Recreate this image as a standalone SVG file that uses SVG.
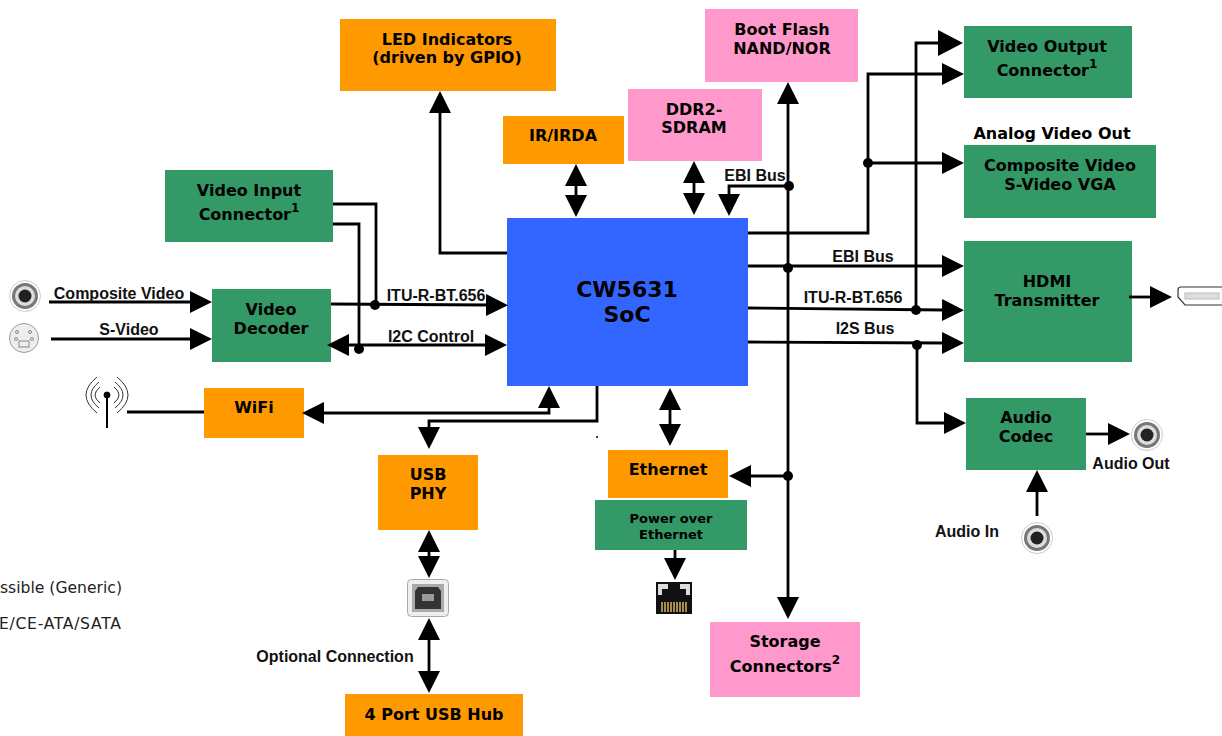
<svg xmlns="http://www.w3.org/2000/svg" width="1222" height="736" viewBox="0 0 1222 736">
<style>
.o{fill:#ff9900}.p{fill:#ff99cc}.g{fill:#339966}.b{fill:#3366ff}
.t{font:bold 16px "DejaVu Sans",Verdana,sans-serif;fill:#000;text-anchor:middle}
.s{font-size:12px}
.l{font:bold 16px "Liberation Sans",Arial,sans-serif;fill:#111;text-anchor:middle}
.f{font:15.600px "DejaVu Sans",Verdana,sans-serif;fill:#222}
.c path{fill:none;stroke:#000;stroke-width:2.800}
.a{marker-end:url(#h)}
.d{marker-start:url(#h);marker-end:url(#h)}
.big{marker-end:url(#H)}
.dot{fill:#000;stroke:none}
</style>
<defs>
<marker id="h" markerUnits="userSpaceOnUse" markerWidth="24" markerHeight="24" refX="2" refY="11" orient="auto-start-reverse"><path d="M0,0L22,11L0,22z" fill="#000"/></marker>
<marker id="H" markerUnits="userSpaceOnUse" markerWidth="27" markerHeight="27" refX="2" refY="13" orient="auto"><path d="M0,0L25,13L0,26z" fill="#000"/></marker>
<g id="jack"><circle r="15.500" fill="#fff" stroke="#ccc"/><circle r="13" fill="#777"/><circle r="10" fill="#ddd"/><circle r="6.500" fill="#222"/></g>
</defs>
<g id="led"><rect class="o" x="340" y="19" width="216" height="72"/><text class="t" x="447" y="45">LED Indicators</text><text class="t" x="447" y="63">(driven by GPIO)</text></g>
<g id="boot"><rect class="p" x="705" y="9" width="153" height="73"/><text class="t" x="782" y="35">Boot Flash</text><text class="t" x="782" y="54">NAND/NOR</text></g>
<g id="ddr2"><rect class="p" x="628" y="89" width="134" height="72"/><text class="t" x="694" y="115">DDR2-</text><text class="t" x="694" y="133">SDRAM</text></g>
<g id="ir"><rect class="o" x="503" y="116" width="121" height="48"/><text class="t" x="563" y="141">IR/IRDA</text></g>
<g id="video-input"><rect class="g" x="165" y="170" width="168" height="72"/><text class="t" x="249" y="196">Video Input</text><text class="t" x="249" y="220">Connector<tspan class="s" dy="-8">1</tspan></text></g>
<g id="video-decoder"><rect class="g" x="212" y="289" width="119" height="73"/><text class="t" x="271" y="315">Video</text><text class="t" x="271" y="334">Decoder</text></g>
<g id="soc"><rect class="b" x="507" y="218" width="241" height="168"/><text class="t" style="font-size:22px" x="627" y="297">CW5631</text><text class="t" style="font-size:22px" x="627" y="322">SoC</text></g>
<g id="wifi"><rect class="o" x="204" y="388" width="100" height="50"/><text class="t" x="254" y="413">WiFi</text></g>
<g id="usb-phy"><rect class="o" x="378" y="455" width="100" height="75"/><text class="t" x="428" y="480">USB</text><text class="t" x="428" y="499">PHY</text></g>
<g id="ethernet"><rect class="o" x="608" y="450" width="120" height="48"/><text class="t" x="668" y="475">Ethernet</text></g>
<g id="poe"><rect class="g" x="595" y="500" width="152" height="50"/><text class="t" style="font-size:13px" x="671" y="523">Power over</text><text class="t" style="font-size:13px" x="671" y="539">Ethernet</text></g>
<g id="storage"><rect class="p" x="710" y="622" width="150" height="75"/><text class="t" x="785" y="647">Storage</text><text class="t" x="785" y="672">Connectors<tspan class="s" dy="-8">2</tspan></text></g>
<g id="usb-hub"><rect class="o" x="345" y="694" width="178" height="42"/><text class="t" x="434" y="720">4 Port USB Hub</text></g>
<g id="video-output"><rect class="g" x="964" y="26" width="168" height="72"/><text class="t" x="1047" y="52">Video Output</text><text class="t" x="1047" y="76">Connector<tspan class="s" dy="-8">1</tspan></text></g>
<g id="composite"><rect class="g" x="964" y="145" width="192" height="73"/><text class="t" x="1060" y="171">Composite Video</text><text class="t" x="1060" y="190">S-Video VGA</text></g>
<g id="hdmi"><rect class="g" x="964" y="241" width="168" height="121"/><text class="t" x="1047" y="287">HDMI</text><text class="t" x="1047" y="306">Transmitter</text></g>
<g id="audio-codec"><rect class="g" x="966" y="398" width="120" height="72"/><text class="t" x="1026" y="423">Audio</text><text class="t" x="1026" y="442">Codec</text></g>
<g id="connectors" class="c">
<path class="a" d="M49,302H192"/>
<path class="a" d="M51,339H192"/>
<path class="a" d="M331,304L488,305"/>
<path d="M333,204H376V305"/>
<path d="M333,224H359V349"/>
<path class="d" d="M347,345H487"/>
<path class="a" d="M507,253H440V111"/>
<path class="d" d="M549,406V413H322"/>
<path d="M127,412H204"/>
<path class="a" d="M597,386V421H429V429"/>
<path class="d" d="M429,550V558"/>
<path class="d" d="M429,638V673"/>
<path class="d" d="M670,408V426"/>
<path class="d" d="M576,184V197"/>
<path class="d" d="M694,181V195"/>
<path class="d" d="M788,102V599"/>
<path class="a" d="M789,186H729V196"/>
<path class="a" d="M748,266H944"/>
<path class="a" d="M748,308L944,310"/>
<path class="big" d="M916,310V43H940"/>
<path class="a" d="M748,233H868V74H944"/>
<path class="a" d="M868,163H944"/>
<path class="a" d="M748,342L944,343"/>
<path class="a" d="M917,345V423H946"/>
<path class="a" d="M788,476H749"/>
<path class="a" d="M1129,297H1152"/>
<path class="a" d="M1086,434H1110"/>
<path class="a" d="M1037,516V490"/>
<path class="a" d="M675,550V560"/>
<circle class="dot" cx="375" cy="305" r="5"/><circle class="dot" cx="359" cy="349" r="5"/>
<circle class="dot" cx="789" cy="186" r="5"/><circle class="dot" cx="788" cy="268" r="5"/>
<circle class="dot" cx="916" cy="310" r="5"/><circle class="dot" cx="868" cy="163" r="5"/>
<circle class="dot" cx="917" cy="345" r="5"/><circle class="dot" cx="788" cy="476" r="5"/>
<circle class="dot" cx="597" cy="437" r="1"/>
</g>
<g id="labels">
<text class="l" x="119" y="299">Composite Video</text>
<text class="l" x="129" y="335">S-Video</text>
<text class="l" x="436" y="301">ITU-R-BT.656</text>
<text class="l" x="431" y="342">I2C Control</text>
<text class="l" x="755" y="181">EBI Bus</text>
<text class="l" x="863" y="262">EBI Bus</text>
<text class="l" x="853" y="303">ITU-R-BT.656</text>
<text class="l" x="865" y="334">I2S Bus</text>
<text class="t" x="1052" y="139">Analog Video Out</text>
<text class="l" x="1131" y="469">Audio Out</text>
<text class="l" x="967" y="537">Audio In</text>
<text class="l" x="335" y="662">Optional Connection</text>
<text class="f" x="0" y="593">ssible (Generic)</text>
<text class="f" style="letter-spacing:.7px" x="-1" y="629">E/CE-ATA/SATA</text>
</g>
<g id="composite-jack"><use href="#jack" x="25" y="296"/></g>
<g id="audio-out-jack"><use href="#jack" x="1147" y="435"/></g>
<g id="audio-in-jack"><use href="#jack" x="1037" y="538"/></g>
<g id="svideo-jack"><circle cx="24" cy="338" r="14.500" fill="#eee" stroke="#999"/><g fill="none" stroke="#888"><circle cx="17" cy="332" r="1.500"/><circle cx="30" cy="332" r="1.500"/><circle cx="16" cy="339" r="1.500"/><circle cx="32" cy="339" r="1.500"/><rect x="19" y="341" width="10" height="6"/></g></g>
<g id="antenna" fill="none" stroke="#000"><path d="M107,395V428" stroke-width="2"/><circle cx="107" cy="395" r="3" fill="#000"/><path d="M97,377Q75,395 97,413M99,382Q83,395 99,408M100,387Q90,395 100,403M117,377Q139,395 117,413M115,382Q131,395 115,408M114,387Q124,395 114,403" stroke="#333"/></g>
<g id="usb-icon"><rect x="407.500" y="579.500" width="41" height="37" rx="4" fill="#eee" stroke="#aaa"/><rect x="412" y="584" width="32" height="28" fill="#aaa"/><path d="M418,587H438L441,591V609H415V591z" fill="#333"/><rect x="422" y="594" width="12" height="7" fill="#999"/></g>
<g id="rj45-icon"><rect x="656" y="582" width="36" height="32" fill="#111"/><path d="M658,584H668V589H662V595H658zM690,584H680V589H686V595H690z" fill="#ddd"/><g stroke="#d8b860" stroke-width="1.500"><path d="M662,602V612M665,602V612M668,602V612M671,602V612M674,602V612M677,602V612M680,602V612M683,602V612M686,602V612"/></g></g>
<g id="hdmi-icon"><path d="M1222,287H1181Q1178,287 1178,290V297L1185,305H1222" fill="#fff" stroke="#333" stroke-width="1.200"/><rect x="1185" y="293" width="34" height="6" fill="#ddd" stroke="#bbb"/></g>
</svg>
